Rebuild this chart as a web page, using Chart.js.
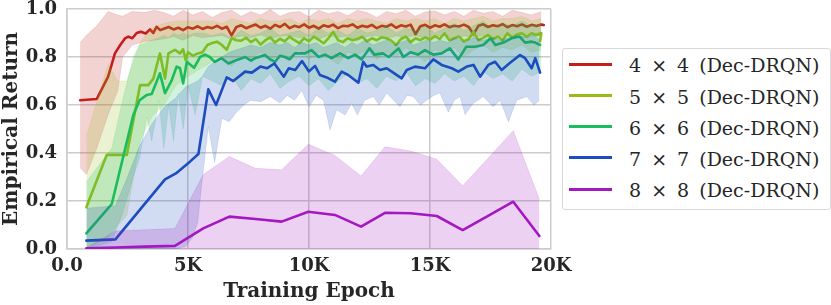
<!DOCTYPE html>
<html><head><meta charset="utf-8">
<script src="https://cdn.jsdelivr.net/npm/chart.js@4"></script>
<style>
html,body{margin:0;padding:0;background:#fff;}
#wrap{position:relative;width:831px;height:305px;overflow:hidden;}
#legend{position:absolute;left:562px;top:48px;width:267px;height:160px;border:1px solid #d8d8d8;border-radius:3px;background:#fff;}
.item{position:absolute;left:0;height:0;width:100%;}
.swatch{position:absolute;left:6px;width:43px;height:3px;top:-1.5px;}
.lbl{position:absolute;left:66px;top:-11px;font-family:'DejaVu Serif';font-size:19px;color:#262626;white-space:nowrap;word-spacing:4px;line-height:24px;}
</style></head>
<body>
<div id="wrap">
<canvas id="c" width="831" height="305"></canvas>
<div id="legend"></div>
</div>
<script>
// ---- labels / ticks ----
const seriesLabels = ['4 \u00d7 4 (Dec-DRQN)', '5 \u00d7 5 (Dec-DRQN)', '6 \u00d7 6 (Dec-DRQN)', '7 \u00d7 7 (Dec-DRQN)', '8 \u00d7 8 (Dec-DRQN)'];
const seriesColors = ['#c41d1d', '#98bd17', '#19bd5d', '#1b4dbf', '#a318c0'];
const xTickLabels = ['0.0', '5K', '10K', '15K', '20K'];
const yTickLabels = ['0.0', '0.2', '0.4', '0.6', '0.8', '1.0'];

// shared epoch grids
const denseEpochs = [4000,4200,4400,4600,4800,5000,5200,5400,5600,5800,6000,6200,6400,6600,6800,7000,7200,7400,7600,7800,8000,8200,8400,8600,8800,9000,9200,9400,9600,9800,10000,10200,10400,10600,10800,11000,11200,11400,11600,11800,12000,12200,12400,12600,12800,13000,13200,13400,13600,13800,14000,14200,14400,14600,14800,15000,15200,15400,15600,15800,16000,16200,16400,16600,16800,17000,17200,17400,17600,17800,18000,18200,18400,18600,18800,19000,19200,19400,19600];
const bandEpochs = [4000,4400,4800,5200,5600,6000,6400,6800,7200,7600,8000,8400,8800,9200,9600,10000,10400,10800,11200,11600,12000,12400,12800,13200,13600,14000,14400,14800,15200,15600,16000,16400,16800,17200,17600,18000,18400,18800,19200,19600];

// ---- 4x4 ----
const red_x = [540,1230,1700,1980,2200,2400,2530,2700,2880,3050,3250,3430,3570,3700,3850].concat(denseEpochs, [19700]);
const red_mean = [0.62,0.625,0.718,0.815,0.85,0.878,0.885,0.878,0.9,0.905,0.898,0.915,0.9,0.926,0.912,
 0.918,0.925,0.915,0.922,0.912,0.924,0.918,0.928,0.917,0.925,0.92,0.93,0.918,0.926,0.89,0.925,0.932,0.92,0.928,0.935,
 0.922,0.93,0.918,0.934,0.925,0.938,0.92,0.93,0.924,0.936,0.922,0.93,0.918,0.932,0.926,0.935,0.92,0.93,0.928,0.936,
 0.922,0.93,0.925,0.934,0.92,0.93,0.926,0.936,0.922,0.932,0.927,0.935,0.895,0.928,0.934,0.922,0.932,0.926,0.936,0.924,
 0.93,0.927,0.935,0.925,0.895,0.93,0.936,0.925,0.932,0.928,0.937,0.924,0.933,0.928,0.936,0.926,0.934,0.929,0.935,0.933];
const red_band_x = [540,800,1230,1700,2100,2300,2700,3200,3600].concat(bandEpochs);
const red_low = [0.34,0.31,0.42,0.56,0.66,0.80,0.85,0.865,0.87,
 0.875,0.885,0.87,0.89,0.88,0.885,0.89,0.875,0.888,0.88,0.892,0.878,0.886,0.89,0.88,0.886,0.875,0.89,0.882,0.888,
 0.87,0.885,0.89,0.876,0.888,0.882,0.89,0.878,0.886,0.89,0.875,0.888,0.882,0.89,0.878,0.886,0.89,0.88,0.888,0.89];
const red_up = [0.86,0.89,0.93,0.99,0.975,0.97,0.99,0.985,0.995,
 0.985,0.97,0.995,0.975,0.99,0.965,0.985,0.995,0.97,0.99,0.975,0.998,0.97,0.985,0.99,0.968,0.995,0.98,0.99,0.972,
 0.995,0.985,0.965,0.99,0.98,0.995,0.97,0.988,0.992,0.975,0.99,0.97,0.995,0.982,0.99,0.97,0.995,0.985,0.975,0.99];

// ---- 5x5 ----
const yel_x = [800,1640,2470,3020,3360,3570,3840,4050,4190,4460,4670,4800,4900].concat(denseEpochs.slice(5), [19550]);
const yel_mean = [0.174,0.392,0.392,0.683,0.683,0.71,0.815,0.71,0.815,0.83,0.815,0.832,0.788,
 0.82,0.805,0.815,0.82,0.85,0.858,0.864,0.85,0.83,0.878,0.87,
 0.868,0.88,0.862,0.875,0.852,0.87,0.882,0.86,0.876,0.865,0.885,0.87,0.858,0.878,0.866,0.885,0.872,0.857,0.878,0.905,
 0.87,0.862,0.878,0.87,0.875,0.885,0.865,0.878,0.87,0.882,0.878,0.868,0.85,0.875,0.885,0.862,0.878,0.87,0.882,0.872,
 0.887,0.875,0.899,0.87,0.878,0.885,0.865,0.875,0.905,0.87,0.88,0.892,0.875,0.885,0.87,0.899,0.88,0.895,0.899,0.885,
 0.899,0.892,0.9,0.866];
const yel_band_x = [800,1700,2100,2470,2750,3020,3500,4000,4500,5000,5500].concat(bandEpochs.slice(5));
const yel_low = [0.0,0.05,0.10,0.14,0.30,0.45,0.55,0.60,0.68,0.72,0.75,
 0.78,0.80,0.76,0.81,0.79,0.82,0.78,0.81,0.80,0.83,0.79,0.82,0.80,0.77,0.82,0.81,0.83,0.79,0.82,0.80,
 0.84,0.81,0.78,0.83,0.82,0.84,0.80,0.83,0.85,0.82,0.84,0.83,0.85,0.82,0.83];
const yel_up = [0.47,0.77,0.70,0.70,0.78,0.86,0.92,0.94,0.95,0.95,0.95,
 0.95,0.94,0.96,0.95,0.94,0.96,0.95,0.95,0.96,0.94,0.96,0.95,0.96,0.94,0.96,0.95,0.96,0.95,0.94,0.96,
 0.95,0.96,0.95,0.96,0.94,0.96,0.95,0.96,0.97,0.95,0.96,0.96,0.97,0.95,0.96];

// ---- 6x6 ----
const grn_x = [800,1850,2740,3000,3300,3500,3840,4050,4330,4530,4670,4800,4950,5250,5500,5700,5900,6100,6390,6670,7080,7360,7600,7770,8180,8400,8600,8800,9000,9200,9420,9830,10100,10400,10660,10930,11280,11620,11900,12170,12500,12700,13050,13300,13700,13900,14200,14500,14790,15130,15480,15820,16170,16500,16860,17200,17500,17700,18030,18370,18700,18930,19200,19350,19550];
const grn_mean = [0.065,0.1875,0.558,0.62,0.642,0.646,0.732,0.649,0.704,0.76,0.753,0.69,0.78,0.755,0.80,0.81,0.80,0.78,0.795,0.773,0.79,0.80,0.785,0.795,0.808,0.79,0.78,0.805,0.80,0.79,0.815,0.815,0.829,0.80,0.81,0.795,0.815,0.795,0.81,0.79,0.836,0.81,0.815,0.80,0.836,0.80,0.82,0.81,0.829,0.81,0.815,0.836,0.79,0.843,0.843,0.85,0.878,0.85,0.86,0.878,0.885,0.86,0.864,0.86,0.85];
const grn_band_x = [800,1850,2300,2740,3000,3300,3500,3800,4000,4200,4400,4600,4800,5000,5300,5600].concat(bandEpochs.slice(5));
const grn_low = [0.0,0.03,0.15,0.30,0.38,0.55,0.45,0.62,0.42,0.60,0.45,0.65,0.50,0.68,0.56,0.72,
 0.70,0.68,0.72,0.66,0.71,0.69,0.73,0.67,0.70,0.72,0.68,0.71,0.66,0.70,0.73,0.69,0.71,0.67,0.72,0.70,
 0.74,0.68,0.71,0.69,0.73,0.70,0.72,0.68,0.74,0.71,0.73,0.70,0.75,0.72,0.74];
const grn_up = [0.28,0.42,0.62,0.80,0.85,0.86,0.87,0.88,0.89,0.88,0.90,0.89,0.90,0.89,0.90,0.90,
 0.89,0.90,0.88,0.91,0.89,0.90,0.92,0.89,0.90,0.91,0.89,0.92,0.90,0.91,0.89,0.92,0.90,0.91,0.93,0.90,
 0.92,0.91,0.93,0.90,0.92,0.94,0.91,0.93,0.95,0.92,0.94,0.93,0.95,0.93,0.94];

// ---- 7x7 ----
const blu_x = [800,2000,4050,4500,5080,5430,5840,6160,6600,6870,7360,7640,7990,8260,8570,8960,9160,9430,9710,10000,10250,10450,10730,11070,11350,11620,12040,12240,12380,12660,12930,13210,13480,13830,14040,14380,14790,15140,15480,15900,16170,16520,16800,17070,17410,17690,17960,18310,18720,18930,19200,19350,19550];
const blu_mean = [0.035,0.04,0.29,0.315,0.364,0.396,0.665,0.6,0.715,0.7,0.739,0.735,0.76,0.753,0.773,0.718,0.753,0.746,0.783,0.74,0.763,0.725,0.715,0.697,0.739,0.725,0.693,0.78,0.76,0.767,0.746,0.753,0.735,0.711,0.746,0.76,0.753,0.79,0.767,0.753,0.739,0.76,0.767,0.718,0.767,0.78,0.746,0.776,0.808,0.795,0.753,0.795,0.735];
const blu_band_x = [800,2000,2500,3000,3500,4000,4500,4900,5200,5400,5600,5840,6100,6400,6700,7000,7300,7600,8000,8400,8800,9100,9400,9700,10000,10300,10600,10870,11140,11490,11760,12000,12300,12660,12900,13210,13500,13760,14050,14310,14600,14860,15150,15410,15760,16000,16240,16450,16790,17200,17600,17900,18240,18580,19000,19300,19520];
const blu_low = [0,0,0,0,0,0,0,0.01,0.05,0.11,0.30,0.51,0.36,0.545,0.53,0.57,0.60,0.62,0.614,0.635,0.608,0.64,0.62,0.66,0.593,0.64,0.62,0.496,0.58,0.558,0.607,0.558,0.62,0.635,0.60,0.65,0.62,0.593,0.64,0.635,0.60,0.62,0.64,0.65,0.57,0.62,0.635,0.56,0.607,0.635,0.593,0.62,0.53,0.62,0.635,0.60,0.62];
const blu_up = [0.17,0.18,0.30,0.43,0.52,0.59,0.63,0.675,0.69,0.70,0.72,0.76,0.78,0.80,0.82,0.83,0.84,0.85,0.84,0.86,0.85,0.86,0.84,0.86,0.85,0.86,0.84,0.85,0.86,0.84,0.86,0.85,0.87,0.85,0.86,0.87,0.85,0.86,0.87,0.85,0.86,0.87,0.86,0.87,0.86,0.88,0.87,0.86,0.88,0.87,0.88,0.87,0.88,0.89,0.88,0.89,0.87];

// ---- 8x8 ----
const pur_x = [800,2000,3200,4460,5630,6710,7790,8870,9970,11070,12150,13140,14200,15280,16350,17400,18440,19520];
const pur_mean = [0.003,0.006,0.01,0.013,0.086,0.135,0.125,0.114,0.155,0.142,0.093,0.151,0.149,0.1375,0.079,0.138,0.197,0.054];
const pur_up = [0.005,0.075,0.08,0.085,0.31,0.385,0.336,0.33,0.436,0.39,0.304,0.426,0.408,0.374,0.264,0.378,0.493,0.207];

// ---- build ----
function pts(xs, ys) { return xs.map((x, i) => ({x: x, y: ys[i]})); }
function rgba(hex, a) {
  const n = parseInt(hex.slice(1), 16);
  return 'rgba(' + (n >> 16) + ',' + ((n >> 8) & 255) + ',' + (n & 255) + ',' + a + ')';
}
function lineDs(xs, ys, color) {
  return {data: pts(xs, ys), borderColor: color, borderWidth: 2.6, pointRadius: 0, fill: false, borderJoinStyle: 'round', borderCapStyle: 'round'};
}
function bandDs(xs, ys, color, fill) {
  return {data: pts(xs, ys), borderColor: rgba(color, 0.18), borderWidth: 0.7, pointRadius: 0, fill: fill, backgroundColor: rgba(color, 0.2)};
}

const C = seriesColors;
// first element is drawn on top
const datasets = [
  lineDs(pur_x, pur_mean, C[4]),
  bandDs(pur_x, pur_up, C[4], 'origin'),
  lineDs(blu_x, blu_mean, C[3]),
  bandDs(blu_band_x, blu_up, C[3], '+1'),
  bandDs(blu_band_x, blu_low, C[3], false),
  lineDs(grn_x, grn_mean, C[2]),
  bandDs(grn_band_x, grn_up, C[2], '+1'),
  bandDs(grn_band_x, grn_low, C[2], false),
  lineDs(yel_x, yel_mean, C[1]),
  bandDs(yel_band_x, yel_up, C[1], '+1'),
  bandDs(yel_band_x, yel_low, C[1], false),
  lineDs(red_x, red_mean, C[0]),
  bandDs(red_band_x, red_up, C[0], '+1'),
  bandDs(red_band_x, red_low, C[0], false)
];

const tickFont = {family: 'DejaVu Serif', weight: 'bold', size: 18, lineHeight: 1.0};
const titleFont = {family: 'DejaVu Serif', weight: 'bold', size: 20};
const gridCol = '#cccccc';

new Chart(document.getElementById('c'), {
  type: 'line',
  data: {datasets: datasets},
  options: {
    responsive: false, animation: false, devicePixelRatio: 1,
    layout: {padding: {left: 0, right: 280, top: 9, bottom: 0}},
    plugins: {legend: {display: false}, tooltip: {enabled: false}},
    scales: {
      x: {
        type: 'linear', min: 0, max: 20000,
        ticks: {stepSize: 5000, autoSkip: false, maxRotation: 0, padding: 8, color: '#262626', font: tickFont,
                callback: (v, i) => xTickLabels[i]},
        grid: {color: gridCol, lineWidth: 1.5, drawTicks: false},
        border: {display: true, color: gridCol, width: 1.5},
        title: {display: true, text: 'Training Epoch', color: '#262626', font: titleFont, padding: {top: 0, bottom: 1}},
        afterFit: (s) => { s.height = 56; s.paddingLeft = 0; s.paddingRight = 0; }
      },
      y: {
        type: 'linear', min: 0, max: 1,
        ticks: {stepSize: 0.2, padding: 10, color: '#262626', font: tickFont,
                callback: (v, i) => yTickLabels[i]},
        grid: {color: gridCol, lineWidth: 1.5, drawTicks: false},
        border: {display: true, color: gridCol, width: 1.5},
        title: {display: true, text: 'Empirical Return', color: '#262626', font: titleFont, padding: {top: 0, bottom: 0}},
        afterFit: (s) => { s.width = 67; s.paddingTop = 0; s.paddingBottom = 0; }
      }
    }
  }
});

// legend (HTML, real text)
const legendY = [15.3, 46.7, 77.7, 108.7, 140];
const lg = document.getElementById('legend');
seriesLabels.forEach((t, i) => {
  const it = document.createElement('div');
  it.className = 'item';
  it.style.top = legendY[i] + 'px';
  const sw = document.createElement('div');
  sw.className = 'swatch';
  sw.style.background = seriesColors[i];
  const lb = document.createElement('div');
  lb.className = 'lbl';
  lb.textContent = t;
  it.appendChild(sw); it.appendChild(lb);
  lg.appendChild(it);
});
</script>
</body></html>
